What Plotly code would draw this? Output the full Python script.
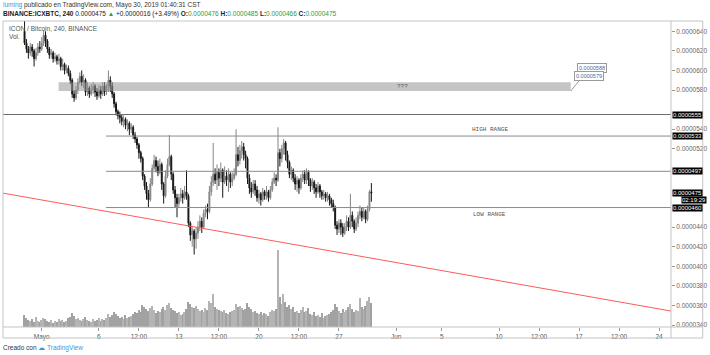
import pandas as pd
import plotly.graph_objects as go

# ---------------- data (prices in units of 1e-7 BTC) ----------------
START = "2019-04-29 12:00"
N_BARS = 183

closes = [628, 622, 618, 624, 620, 612, 618, 624, 622, 628, 636, 630, 622, 616, 618, 612, 614, 610, 612, 604,
          606, 600, 602, 597, 590, 576, 572, 580, 588, 594, 588, 590, 578, 582, 576, 580, 584, 578, 574, 580,
          576, 584, 578, 582, 590, 584, 576, 566, 558, 554, 552, 548, 550, 544, 546, 540, 542, 534, 530, 524,
          516, 510, 492, 482, 474, 468, 484, 500, 508, 502, 496, 504, 484, 472, 492, 504, 512, 494, 478, 470,
          464, 470, 474, 470, 476, 472, 444, 432, 436, 428, 434, 440, 446, 440, 454, 458, 456, 476, 486, 494,
          488, 496, 490, 498, 486, 492, 488, 494, 486, 490, 494, 514, 508, 518, 522, 514, 510, 490, 480, 476,
          484, 478, 470, 474, 468, 476, 472, 476, 470, 478, 486, 490, 488, 516, 510, 520, 526, 514, 506, 494,
          498, 490, 484, 488, 480, 490, 494, 488, 496, 488, 482, 486, 480, 476, 482, 476, 472, 474, 470, 472,
          468, 464, 460, 442, 438, 444, 440, 434, 440, 446, 440, 452, 446, 438, 444, 452, 456, 450, 456, 448,
          458, 476, 475]
highs = [652, 632, 625, 628, 627, 622, 623, 628, 630, 634, 641, 640, 632, 624, 622, 620, 618, 616, 617, 614,
         612, 608, 606, 605, 600, 592, 580, 584, 592, 598, 600, 596, 592, 588, 584, 586, 588, 586, 582, 585,
         584, 588, 588, 586, 600, 594, 588, 578, 568, 560, 558, 555, 554, 552, 550, 548, 546, 544, 537, 532,
         526, 518, 512, 494, 486, 478, 490, 504, 514, 512, 508, 510, 506, 486, 498, 510, 534, 514, 496, 482,
         474, 474, 480, 478, 482, 498, 474, 446, 440, 438, 440, 446, 452, 450, 458, 462, 464, 482, 492, 526,
         500, 504, 500, 506, 500, 502, 498, 500, 496, 496, 500, 540, 522, 524, 528, 526, 518, 512, 494, 486,
         488, 488, 482, 478, 476, 480, 478, 482, 478, 482, 490, 496, 494, 542, 520, 524, 530, 528, 518, 508,
         502, 500, 494, 492, 490, 494, 498, 498, 500, 498, 490, 490, 488, 484, 486, 484, 478, 478, 476, 476,
         474, 470, 468, 462, 446, 448, 448, 444, 444, 452, 450, 474, 456, 448, 450, 456, 462, 460, 460, 458,
         462, 478, 485]
lows = [626, 618, 612, 615, 614, 604, 610, 615, 618, 620, 625, 624, 618, 612, 612, 608, 609, 606, 606, 600,
        600, 596, 597, 594, 586, 572, 568, 570, 576, 586, 584, 582, 574, 574, 572, 574, 576, 573, 570, 572,
        571, 574, 574, 575, 578, 578, 572, 562, 554, 550, 546, 544, 542, 540, 538, 534, 536, 530, 526, 520,
        510, 506, 488, 478, 468, 460, 466, 482, 498, 496, 492, 494, 478, 464, 470, 490, 502, 488, 474, 460,
        450, 460, 466, 464, 468, 468, 440, 426, 420, 412, 418, 428, 436, 434, 438, 450, 448, 454, 472, 482,
        484, 478, 482, 486, 470, 484, 482, 476, 480, 482, 488, 492, 502, 504, 510, 508, 500, 484, 474, 470,
        474, 472, 466, 464, 462, 466, 468, 468, 466, 468, 476, 484, 482, 486, 502, 506, 514, 508, 500, 490,
        488, 486, 478, 476, 474, 478, 486, 484, 484, 482, 476, 478, 474, 470, 474, 470, 468, 468, 466, 466,
        462, 460, 456, 438, 432, 434, 432, 430, 432, 436, 436, 438, 440, 434, 436, 440, 448, 446, 448, 444,
        446, 456, 466]
volumes = [120, 90, 70, 60, 80, 50, 100, 60, 50, 70, 90, 80, 60, 50, 70, 40, 60, 50, 80, 60,
           70, 50, 60, 90, 100, 140, 110, 80, 90, 70, 60, 80, 100, 70, 60, 50, 80, 60, 70, 90,
           60, 80, 70, 90, 130, 100, 120, 150, 130, 110, 90, 100, 80, 120, 90, 100, 110, 130, 150, 140,
           170, 150, 220, 200, 180, 160, 190, 210, 170, 140, 160, 150, 180, 200, 170, 220, 240, 190, 170, 160,
           140, 150, 120, 130, 150, 180, 250, 230, 200, 190, 210, 180, 160, 170, 150, 190, 170, 260, 240, 330,
           200, 180, 170, 160, 150, 170, 140, 130, 150, 160, 170, 230, 200, 210, 190, 170, 180, 240, 200, 180,
           150, 160, 140, 130, 150, 120, 140, 130, 110, 150, 170, 160, 180, 760, 300, 230, 330, 250, 200, 220,
           180, 200, 150, 160, 140, 170, 200, 150, 160, 190, 130, 120, 150, 110, 120, 100, 140, 90, 110, 120,
           130, 150, 170, 230, 200, 160, 140, 180, 150, 170, 200, 230, 180, 150, 170, 160, 290, 200, 180, 210,
           260, 300, 240]
FIRST_OPEN = 640

tick_dates = ["2019-05-01", "2019-05-06", "2019-05-09 12:00", "2019-05-13", "2019-05-16 12:00", "2019-05-20",
              "2019-05-23 12:00", "2019-05-27", "2019-06-01", "2019-06-05", "2019-06-10", "2019-06-13 12:00",
              "2019-06-17", "2019-06-20 12:00", "2019-06-24"]
tick_text = ["Mayo", "6", "12:00", "13", "12:00", "20", "12:00", "27", "Jun", "5", "10", "12:00", "17", "12:00", "24"]

# price-scale labels that stay visible (the others are hidden behind the price tags)
price_ticks = [340, 360, 380, 400, 420, 440, 520, 540, 580, 600, 620, 640]
tag_prices = [555, 533, 497, 475, 460]

# drawings
zone_x = ("2019-05-02 11:30", "2019-06-16 06:30")
zone_y = (579, 588)
full_line = 555
range_lines = [533, 497, 460]
range_line_start = "2019-05-06 15:00"
trend_pts = [("2019-04-27 14:45", 474.7), ("2019-06-25 01:00", 354.3)]
X_RANGE = ("2019-04-27 14:45", "2019-06-25 01:00")
Y_RANGE = (338, 650.5)

S = 1e-7
times = pd.date_range(START, periods=N_BARS, freq="4h")
opens = [FIRST_OPEN] + closes[:-1]
o = [v * S for v in opens]
c = [v * S for v in closes]
h = [v * S for v in highs]
l = [v * S for v in lows]

UP, DOWN = "#858585", "#161616"
vol_colors = ["#b4b4b4" if closes[i] >= opens[i] else "#a2a2a2" for i in range(N_BARS)]

fig = go.Figure()
fig.add_trace(go.Bar(x=times, y=volumes, marker=dict(color=vol_colors, line=dict(width=0)),
                     width=4 * 3600 * 1000 * 0.75, yaxis="y2", showlegend=False, hoverinfo="skip"))
fig.add_trace(go.Candlestick(x=times, open=o, high=h, low=l, close=c, whiskerwidth=0,
                             increasing=dict(line=dict(color=UP, width=1), fillcolor=UP),
                             decreasing=dict(line=dict(color=DOWN, width=1), fillcolor=DOWN),
                             showlegend=False))

GRID = "#c3c3c3"
FONT = "Liberation Sans, Arial, sans-serif"
MONO = "Liberation Mono, DejaVu Sans Mono, monospace"


def px(xp):
    return (xp - 3) / 673


def py(yp):
    return (327 - yp) / 306


shapes = []
shapes.append(dict(type="rect", xref="x", yref="y", x0=zone_x[0], x1=zone_x[1], y0=zone_y[0] * S, y1=zone_y[1] * S,
                   fillcolor="rgba(150,150,150,0.55)", line=dict(width=0), layer="above"))
shapes.append(dict(type="line", xref="paper", yref="y", x0=0, x1=1, y0=full_line * S, y1=full_line * S,
                   line=dict(color="#6e6e6e", width=1)))
for v in range_lines:
    shapes.append(dict(type="line", xref="x", yref="y", x0=range_line_start, x1=X_RANGE[1], y0=v * S, y1=v * S,
                       line=dict(color="#8a8a8a", width=1)))
shapes.append(dict(type="line", xref="x", yref="y", x0=trend_pts[0][0], y0=trend_pts[0][1] * S,
                   x1=trend_pts[1][0], y1=trend_pts[1][1] * S, line=dict(color="#ff5a5a", width=1)))
shapes.append(dict(type="line", xref="paper", yref="paper", x0=px(575), y0=py(91), x1=px(584), y1=py(80),
                   line=dict(color="#9a9a9a", width=1)))
# frame
shapes.append(dict(type="rect", xref="paper", yref="paper", x0=px(3), x1=px(708), y0=py(338), y1=py(21),
                   line=dict(color=GRID, width=1)))
shapes.append(dict(type="line", xref="paper", yref="paper", x0=px(3), x1=px(708), y0=py(327), y1=py(327),
                   line=dict(color=GRID, width=1)))
shapes.append(dict(type="line", xref="paper", yref="paper", x0=px(676), x1=px(676), y0=py(338), y1=py(21),
                   line=dict(color=GRID, width=1)))

ann = []
ann.append(dict(xref="paper", yref="paper", x=px(1), y=py(5), xanchor="left", yanchor="middle", showarrow=False,
                text="<span style='color:#2e9be0'>luming</span> publicado en TradingView.com, Mayo 30, 2019 01:40:31 CST",
                font=dict(size=6.5, color="#333", family=FONT)))
G = "#2a9d3c"
ann.append(dict(xref="paper", yref="paper", x=px(1), y=py(14), xanchor="left", yanchor="middle", showarrow=False,
                text=("<b>BINANCE:ICXBTC, 240</b> 0.0000475 <span style='color:%s'>▲</span> +0.0000016 (+3.49%%) "
                      "<b>O:</b><span style='color:%s'>0.0000476</span> <b>H:</b><span style='color:%s'>0.0000485</span> "
                      "<b>L:</b><span style='color:%s'>0.0000466</span> <b>C:</b><span style='color:%s'>0.0000475</span>")
                % (G, G, G, G, G),
                font=dict(size=6.5, color="#222", family=FONT)))
ann.append(dict(xref="paper", yref="paper", x=px(7), y=py(28), xanchor="left", yanchor="middle", showarrow=False,
                text="ICON / Bitcoin, 240, BINANCE", font=dict(size=6.5, color="#555", family=FONT)))
ann.append(dict(xref="paper", yref="paper", x=px(7), y=py(36), xanchor="left", yanchor="middle", showarrow=False,
                text="Vol.", font=dict(size=6.5, color="#555", family=FONT)))
ann.append(dict(xref="x", yref="y", x="2019-06-01 14:00", y=(zone_y[0] + zone_y[1]) / 2 * S, showarrow=False,
                xanchor="center", yanchor="middle",
                text="???", font=dict(size=6, color="#555", family=MONO)))
ann.append(dict(xref="x", yref="y", x="2019-06-09 06:00", y=540 * S, showarrow=False, xanchor="center",
                yanchor="middle", text="HIGH RANGE", font=dict(size=6, color="#555", family=MONO)))
ann.append(dict(xref="x", yref="y", x="2019-06-09 03:00", y=453 * S, showarrow=False, xanchor="center",
                yanchor="middle", text="LOW RANGE", font=dict(size=6, color="#555", family=MONO)))
ann.append(dict(xref="paper", yref="paper", x=px(597), y=py(68), showarrow=False, xanchor="left",
                yanchor="middle", text="0.0000588",
                font=dict(size=5.5, color="#4a6a9a", family=FONT), bgcolor="white", bordercolor="#9a9a9a",
                borderwidth=1, borderpad=1) | dict(x=px(581)))
ann.append(dict(xref="paper", yref="paper", x=px(578), y=py(76), showarrow=False, xanchor="left",
                yanchor="middle", text="0.0000579",
                font=dict(size=5.5, color="#4a6a9a", family=FONT), bgcolor="white", bordercolor="#9a9a9a",
                borderwidth=1, borderpad=1))
for v in tag_prices:
    ann.append(dict(xref="paper", yref="y", x=px(677), y=v * S, xanchor="left", yanchor="middle", showarrow=False,
                    text="%.7f" % (v * S), font=dict(size=6, color="white", family=FONT), bgcolor="black",
                    borderpad=0))
ann.append(dict(xref="paper", yref="y", x=px(686), y=467.6 * S, xanchor="left", yanchor="middle", showarrow=False,
                text="02:19:29", font=dict(size=6, color="white", family=FONT), bgcolor="black", borderpad=0))
ann.append(dict(xref="paper", yref="paper", x=px(1), y=py(348), xanchor="left", yanchor="middle", showarrow=False,
                text="Creado con <span style='color:#2e9be0'>☁ TradingView</span>",
                font=dict(size=6.5, color="#333", family=FONT)))

fig.update_layout(
    width=710, height=355,
    margin=dict(l=3, r=34, t=21, b=28),
    paper_bgcolor="white", plot_bgcolor="white",
    font=dict(family=FONT, size=6.5, color="#555"),
    showlegend=False,
    xaxis=dict(type="date", range=list(X_RANGE), tickvals=tick_dates, ticktext=tick_text, showgrid=False,
               zeroline=False, ticks="outside", ticklen=3, tickcolor="#999", tickfont=dict(size=6.5, color="#555"),
               rangeslider=dict(visible=False), showline=False),
    yaxis=dict(side="right", range=[Y_RANGE[0] * S, Y_RANGE[1] * S], tickvals=[v * S for v in price_ticks],
               ticktext=["%.7f" % (v * S) for v in price_ticks], showgrid=False, zeroline=False,
               ticks="outside", ticklen=3, tickcolor="#999", tickfont=dict(size=6.5, color="#666")),
    yaxis2=dict(overlaying="y", range=[0, max(volumes) * 306 / 77], visible=False, fixedrange=True),
    shapes=shapes, annotations=ann, bargap=0,
)

fig.write_html("out.html")
